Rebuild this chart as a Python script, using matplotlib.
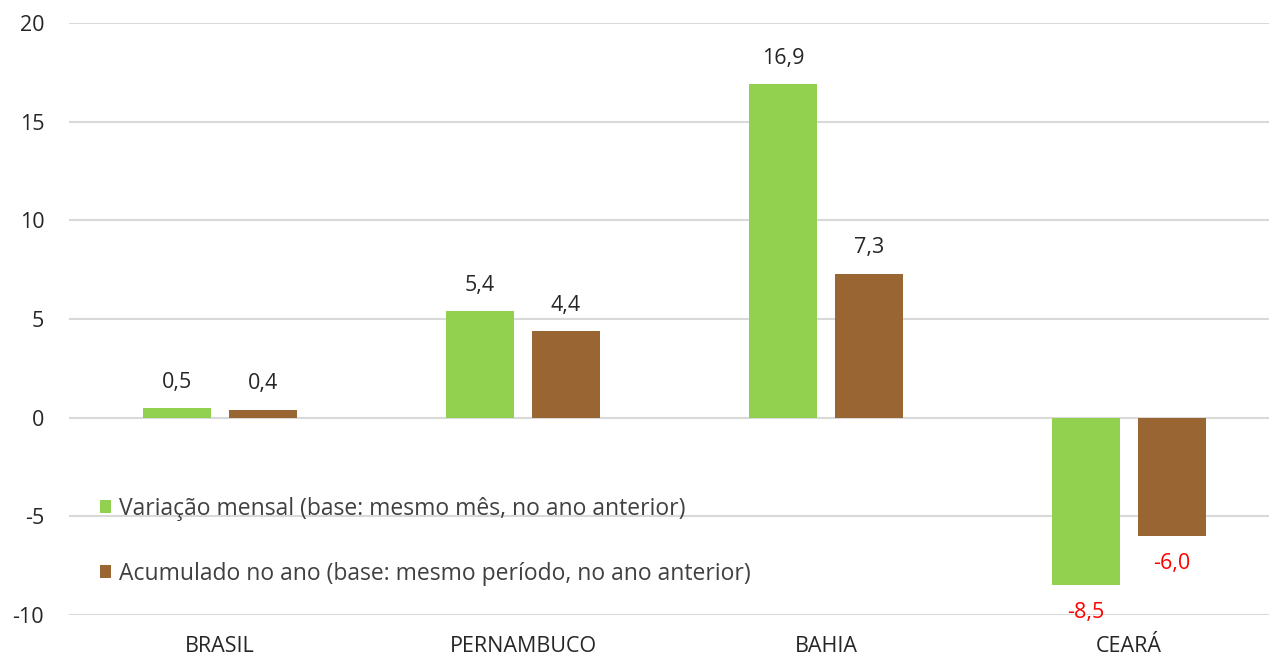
import matplotlib
matplotlib.use("Agg")
import matplotlib.pyplot as plt
import numpy as np

categories = ["BRASIL", "PERNAMBUCO", "BAHIA", "CEARÁ"]
variacao_mensal = [0.5, 5.4, 16.9, -8.5]
acumulado_ano = [0.4, 4.4, 7.3, -6.0]
series_labels = ["Variação mensal (base: mesmo mês, no ano anterior)",
                 "Acumulado no ano (base: mesmo período, no ano anterior)"]
yticks = [-10, -5, 0, 5, 10, 15, 20]

GREEN = "#92D050"
BROWN = "#996633"
TEXT = "#404040"
DARK = "#262626"

plt.rcParams["font.family"] = ["Open Sans", "DejaVu Sans"]

fig = plt.figure(figsize=(12.69, 6.58), dpi=100)
W, H = 1269, 658
ax = fig.add_axes([68.5 / W, (H - 615) / H, 1212 / W, (615 - 23) / H])

x = np.arange(len(categories))
bw = 0.224
off = 0.142
b1 = ax.bar(x - off, variacao_mensal, bw, color=GREEN, label=series_labels[0], zorder=3)
b2 = ax.bar(x + off, acumulado_ano, bw, color=BROWN, label=series_labels[1], zorder=3)

def fmt(v):
    return f"{v:.1f}".replace(".", ",")

for bars, vals in ((b1, variacao_mensal), (b2, acumulado_ano)):
    for rect, v in zip(bars, vals):
        cx = rect.get_x() + rect.get_width() / 2
        if v >= 0:
            ax.annotate(fmt(v), (cx, v), xytext=(0, 11), textcoords="offset points",
                        ha="center", va="bottom", fontsize=15.5, color=DARK)
        else:
            ax.annotate(fmt(v), (cx, v), xytext=(0, -12), textcoords="offset points",
                        ha="center", va="top", fontsize=15.5, color="#FF0000")

ax.set_xlim(-0.5, 3.5)
ax.set_ylim(-10, 20)
ax.set_yticks(yticks)
ax.set_yticklabels([str(t) for t in yticks], fontsize=15.5, color=DARK)
ax.set_xticks(x)
ax.set_xticklabels(categories, fontsize=15.5, color=DARK)
ax.tick_params(axis="both", length=0)
ax.tick_params(axis="y", pad=17.5)
ax.tick_params(axis="x", pad=15)
ax.yaxis.grid(True, color="#D9D9D9", linewidth=1.5, zorder=0)
ax.set_axisbelow(True)
for s in ax.spines.values():
    s.set_visible(False)

leg = ax.legend(loc="upper left", bbox_to_anchor=(100 / W, (H - 497) / H),
                bbox_transform=fig.transFigure, frameon=False, fontsize=16.5,
                handlelength=0.5, handleheight=0.5, handletextpad=0.35,
                labelspacing=1.78, borderaxespad=0, borderpad=0)
for t in leg.get_texts():
    t.set_color(TEXT)

fig.savefig("out.png", dpi=100)
